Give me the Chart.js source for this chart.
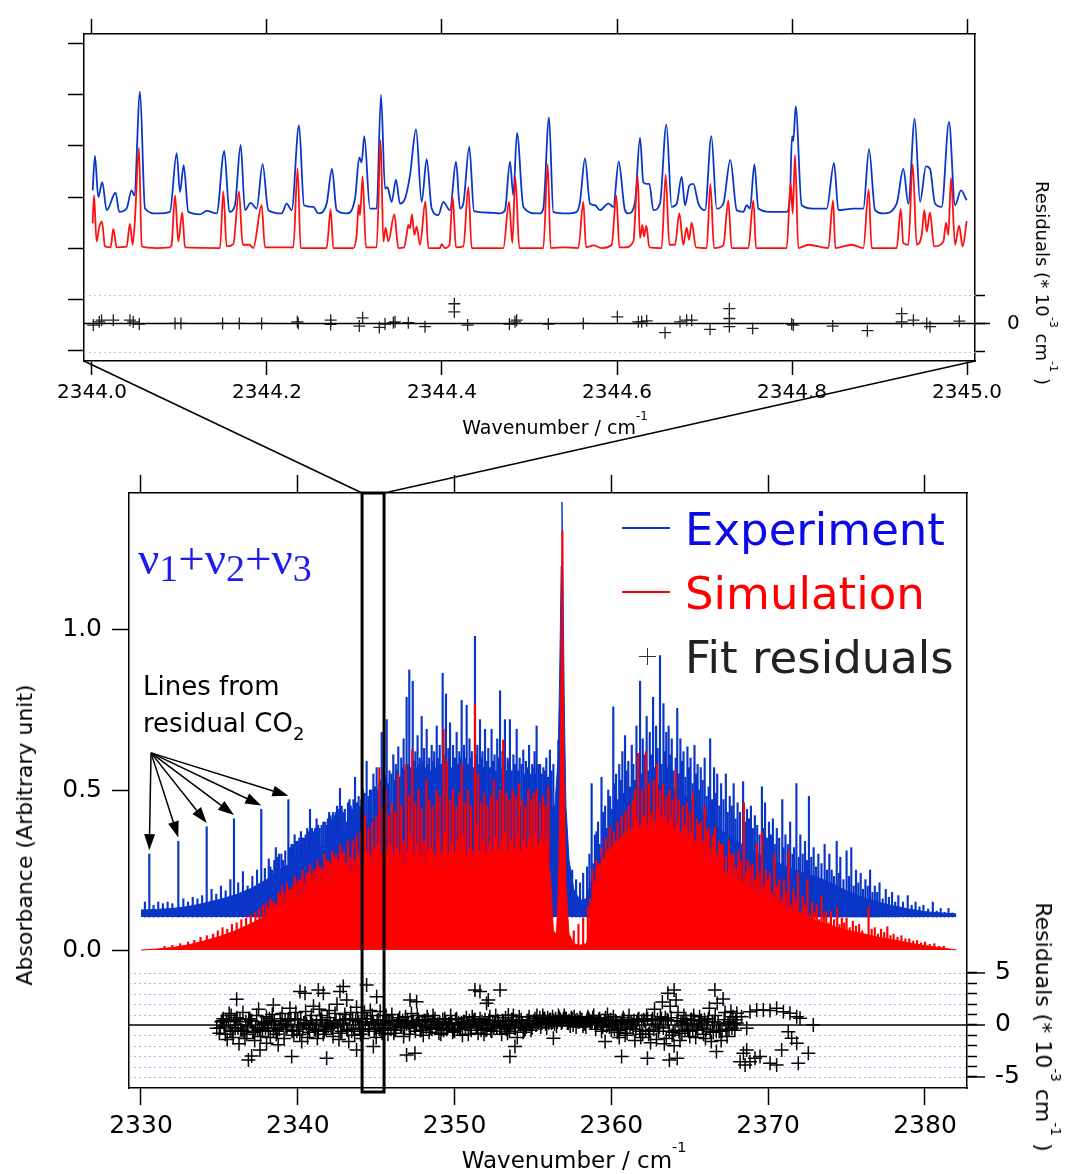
<!DOCTYPE html>
<html>
<head>
<meta charset="utf-8">
<script src="https://cdn.jsdelivr.net/npm/chart.js@4.4.1/dist/chart.umd.min.js"></script>
<style>
  body { margin: 0; background: #fff; }
  #wrap { position: relative; width: 1072px; height: 1174px; overflow: hidden; }
  canvas { position: absolute; left: 0; top: 0; }
  .t { position: absolute; white-space: nowrap; line-height: 1; font-family: 'DejaVu Sans', sans-serif; color: #000; }
  .c { transform: translate(-50%, -50%); }
  .r90 { transform: translate(-50%, -50%) rotate(90deg); }
  .rm90 { transform: translate(-50%, -50%) rotate(-90deg); }
  sup { font-size: 0.62em; position: relative; top: -0.15em; vertical-align: top; line-height: 0; }
  .sb { font-size: 38px; position: relative; top: 7px; }
  .swatch { position: absolute; height: 2px; width: 48px; }
</style>
</head>
<body>
<div id="wrap">
  <canvas id="main" width="1072" height="1174"></canvas>
  <canvas id="inset" width="1072" height="460"></canvas>

  <div class="t c" style="left:555px;top:427px;font-size:19px">Wavenumber / cm<sup>-1</sup></div>
  <div class="t r90" style="left:1042px;top:283px;font-size:18px">Residuals (* 10<sup>-3</sup> cm<sup>-1</sup> )</div>

  <div class="t c" style="left:574px;top:1160px;font-size:23px">Wavenumber / cm<sup>-1</sup></div>
  <div class="t rm90" style="left:25px;top:835px;font-size:22px">Absorbance (Arbitrary unit)</div>
  <div class="t r90" style="left:1043px;top:1027px;font-size:22px">Residuals (* 10<sup>-3</sup> cm<sup>-1</sup> )</div>

  <div class="t" style="left:138px;top:535px;font-family:'Liberation Serif',serif;font-size:47px;color:#1c1cf0">ν<span class="sb">1</span>+ν<span class="sb">2</span>+ν<span class="sb">3</span></div>
  <div class="t" style="left:143px;top:673px;font-size:26px">Lines from</div>
  <div class="t" style="left:143px;top:710px;font-size:26px">residual CO<span style="font-size:18px;position:relative;top:8px">2</span></div>

  <div class="swatch" style="left:622px;top:527px;background:#0a36c8"></div>
  <div class="t" style="left:685px;top:507px;font-size:45px;color:#0a0ae8">Experiment</div>
  <div class="swatch" style="left:622px;top:591px;background:#ff0000"></div>
  <div class="t" style="left:685px;top:571px;font-size:45px;color:#ff0000">Simulation</div>
  <div style="position:absolute;left:639px;top:656px;width:17px;height:1.3px;background:#333"></div>
  <div style="position:absolute;left:647px;top:648px;width:1.3px;height:17px;background:#333"></div>
  <div class="t" style="left:685px;top:635px;font-size:45px;color:#222">Fit residuals</div>
</div>

<script>
// ---------- inset: 2344.0 - 2345.0 cm-1 (x stored as offset from 2344 cm-1) ----------
const insetWnTicks = [2344.0, 2344.2, 2344.4, 2344.6, 2344.8, 2345.0];
const insetAbsTicks = [-0.31, -0.155, 0, 0.155, 0.31, 0.465, 0.62];
const insetResTicks = [-5, 0, 5];

const insetExpDx = [
  0.0008,0.0034,0.0072,0.0118,0.0168,0.0270,0.0312,0.0396,0.0453,0.0484,
  0.0549,0.0606,0.0739,0.0891,0.0968,0.1006,0.1048,0.1101,0.1234,0.1310,
  0.1425,0.1512,0.1570,0.1634,0.1699,0.1749,0.1813,0.1882,0.1950,0.2015,
  0.2168,0.2225,0.2282,0.2366,0.2423,0.2530,0.2587,0.2682,0.2743,0.2796,
  0.2910,0.3006,0.3055,0.3082,0.3112,0.3177,0.3253,0.3303,0.3349,0.3375,
  0.3425,0.3474,0.3520,0.3577,0.3634,0.3703,0.3768,0.3825,0.3882,0.3958,
  0.4015,0.4091,0.4160,0.4206,0.4244,0.4312,0.4366,0.4510,0.4663,0.4720,
  0.4777,0.4815,0.4857,0.4930,0.5082,
  0.5120,0.5158,0.5223,0.5272,0.5425,
  0.5539,0.5577,0.5634,0.5691,0.5749,0.5806,0.5901,0.5958,0.6019,0.6091,
  0.6130,0.6206,0.6263,0.6301,0.6339,0.6370,0.6415,0.6491,0.6564,0.6625,
  0.6682,0.6739,0.6777,0.6827,0.6872,0.6930,0.7006,0.7078,0.7139,0.7215,
  0.7295,0.7368,0.7444,0.7482,0.7520,0.7570,0.7615,0.7749,0.7939,0.7977,
  0.8000,0.8015,0.8042,0.8110,0.8244,0.8396,0.8480,0.8530,0.8701,0.8815,
  0.8880,0.8949,0.9044,0.9196,0.9272,0.9329,0.9402,0.9463,0.9531,0.9577,
  0.9634,0.9710,0.9794,0.9863,0.9931,0.9996];
const insetExpAbs = [
  0.175,0.280,0.155,0.200,0.115,0.168,0.110,0.120,0.175,0.160,
  0.475,0.120,0.105,0.110,0.288,0.170,0.252,0.110,0.102,0.113,
  0.105,0.295,0.110,0.130,0.313,0.115,0.137,0.120,0.255,0.115,
  0.105,0.135,0.115,0.373,0.130,0.125,0.105,0.135,0.240,0.115,
  0.105,0.150,0.275,0.260,0.340,0.120,0.120,0.465,0.180,0.185,
  0.140,0.208,0.135,0.150,0.220,0.360,0.140,0.270,0.120,0.100,
  0.140,0.115,0.262,0.120,0.135,0.308,0.112,0.108,0.105,0.115,
  0.262,0.160,0.350,0.125,0.105,
  0.105,0.120,0.397,0.110,0.105,
  0.110,0.140,0.272,0.135,0.130,0.115,0.135,0.125,0.262,0.115,
  0.105,0.140,0.335,0.200,0.195,0.195,0.115,0.135,0.375,0.125,
  0.135,0.217,0.130,0.190,0.195,0.135,0.115,0.340,0.120,0.135,
  0.268,0.115,0.110,0.130,0.120,0.254,0.120,0.110,0.110,0.160,
  0.340,0.325,0.430,0.130,0.120,0.120,0.258,0.115,0.120,0.120,
  0.300,0.115,0.105,0.135,0.240,0.135,0.393,0.140,0.248,0.240,
  0.135,0.125,0.383,0.130,0.175,0.145];

const insetSimDx = [
  0.0008,0.0023,0.0053,0.0084,0.0114,0.0149,0.0213,0.0244,0.0282,0.0396,
  0.0434,0.0465,0.0491,0.0537,0.0568,0.0739,0.0891,0.0910,0.0949,0.0987,
  0.1032,0.1063,0.1463,0.1501,0.1539,0.1615,0.1680,0.1722,0.1798,0.1844,
  0.1939,0.1977,0.2301,0.2350,0.2385,0.2682,0.2728,0.2758,0.2987,0.3025,
  0.3048,0.3063,0.3093,0.3131,0.3253,0.3299,0.3330,0.3356,0.3387,0.3455,
  0.3501,0.3566,0.3596,0.3615,0.3634,0.3657,0.3684,0.3710,0.3749,0.3810,
  0.3844,0.3977,0.3996,0.4034,0.4084,0.4122,0.4160,0.4244,0.4301,0.4339,
  0.4701,0.4766,0.4804,0.4838,0.4884,0.5101,
  0.5158,0.5208,0.5242,0.5387,0.5558,0.5615,0.5646,0.5730,0.5825,0.5939,
  0.5992,0.6027,0.6091,0.6187,0.6236,0.6263,0.6290,0.6309,0.6335,0.6370,
  0.6510,0.6556,0.6598,0.6663,0.6712,0.6758,0.6796,0.6823,0.6853,0.6903,
  0.7025,0.7067,0.7109,0.7215,0.7272,0.7310,0.7501,0.7558,0.7589,0.7939,
  0.7985,0.8008,0.8034,0.8072,0.8187,0.8415,0.8469,0.8495,0.8682,0.8815,
  0.8876,0.8910,0.9196,0.9242,0.9272,0.9329,0.9379,0.9425,0.9482,0.9512,
  0.9539,0.9577,0.9623,0.9730,0.9760,0.9787,0.9817,0.9863,0.9909,0.9950,0.9996];
const insetSimAbs = [
  0.075,0.160,0.020,0.065,0.080,0.005,0.002,0.058,0.002,0.004,
  0.073,0.010,0.085,0.305,0.005,0.000,0.002,0.010,0.160,0.020,
  0.108,0.002,0.000,0.172,0.005,0.012,0.172,0.010,0.010,0.000,
  0.130,0.002,0.002,0.242,0.000,0.000,0.117,0.000,0.000,0.040,
  0.132,0.100,0.217,0.002,0.002,0.328,0.020,0.062,0.020,0.102,
  0.000,0.002,0.040,0.070,0.060,0.102,0.040,0.065,0.010,0.142,
  0.000,0.000,0.012,0.000,0.008,0.155,0.002,0.005,0.185,0.000,
  0.000,0.140,0.015,0.215,0.000,0.000,
  0.000,0.255,0.000,0.002,0.000,0.140,0.002,0.008,0.000,0.010,
  0.160,0.002,0.002,0.020,0.220,0.030,0.070,0.035,0.068,0.002,
  0.000,0.223,0.010,0.010,0.105,0.010,0.062,0.025,0.077,0.002,
  0.000,0.195,0.000,0.008,0.145,0.000,0.000,0.145,0.000,0.000,
  0.198,0.105,0.283,0.000,0.010,0.000,0.145,0.000,0.010,0.000,
  0.178,0.000,0.000,0.118,0.015,0.010,0.255,0.010,0.040,0.115,
  0.050,0.108,0.005,0.020,0.077,0.040,0.213,0.010,0.068,0.005,0.082];

const insetResDx = [
  0.0015,0.0084,0.0110,0.0244,0.0434,0.0472,0.0541,0.0949,0.1017,0.1493,
  0.1684,0.1939,0.2347,0.2358,0.2728,0.2728,0.3055,0.3093,0.3284,0.3349,
  0.3444,0.3463,0.3615,0.3806,0.4141,0.4141,0.4293,0.4770,0.4834,0.4853,
  0.5215,0.5615,0.6004,0.6244,0.6282,0.6339,0.6549,0.6720,0.6796,0.6853,
  0.7063,0.7284,0.7284,0.7284,0.7550,0.7996,0.8015,0.8465,0.8861,0.9253,
  0.9253,0.9387,0.9539,0.9577,0.9912];
const insetRes = [
  -0.29,0.29,0.58,0.58,0.58,0.29,-0.12,0,0,0,
  0,0,0.29,0,0.58,-0.18,-0.47,1.0,-0.7,-0.12,
  0.12,0.29,0.12,-0.58,3.5,2.05,-0.29,-0.12,0.29,0.58,
  -0.12,0,1.17,0.29,0.29,0.47,-1.64,0.29,0.58,0.58,
  -1.05,2.63,0.88,-0.58,-0.88,-0.12,-0.29,-0.47,-1.29,1.75,
  0.29,0.58,0,-0.58,0.41];

// ---------- main panel ----------
const mainWnTicks = [2330, 2340, 2350, 2360, 2370, 2380];
const mainAbsTicks = [0, 0.5, 1.0];
const mainResTicks = [-5, -4, -3, -2, -1, 0, 1, 2, 3, 4, 5];
const zoomWindow = [2344.1, 2345.5];

const expBaseline = 0.103;
// level up to which the experimental trace is a continuous band
const expEnvWn = [
  2330,2331,2332,2333,2334,2335,2336,2337,2338,2339,
  2340,2341,2342,2343,2344,2345,2346,2347,2348,2349,
  2350,2351,2352,2353,2354,2355,2356,
  2356.4,2356.6,2356.7,2356.8,2356.85,2356.9,2357.0,2357.1,2357.3,2357.6,2358.0,2358.4,2358.8,
  2359.0,2359.5,2360.0,2360.5,2361.0,2361.5,2362.0,2362.5,2363.0,2363.5,
  2364.0,2364.5,2365.0,2365.5,2366.0,2366.5,2367.0,2367.5,2368.0,
  2369,2370,2371,2372,2373,2374,2375,2376,2377,2378,2379,2380,2381,2382];
const expEnvAbs = [
  0.125,0.127,0.130,0.136,0.146,0.158,0.172,0.192,0.220,0.255,
  0.285,0.310,0.335,0.360,0.390,0.410,0.430,0.455,0.470,0.475,
  0.475,0.475,0.470,0.460,0.450,0.445,0.440,
  0.45,0.60,0.85,1.20,1.40,1.20,0.75,0.45,0.28,0.19,0.155,0.16,0.23,
  0.26,0.31,0.37,0.42,0.455,0.48,0.50,0.51,0.52,0.52,
  0.505,0.49,0.47,0.445,0.42,0.395,0.375,0.355,0.34,
  0.31,0.285,0.265,0.245,0.23,0.21,0.185,0.165,0.15,0.138,0.128,0.12,0.116,0.113];

// residual CO2 lines pointed at by the arrows
const co2Wn = [2330.53, 2332.38, 2334.19, 2335.93, 2337.67, 2339.40];
const co2Abs = [0.30, 0.34, 0.385, 0.41, 0.44, 0.47];
const arrowFrom = [2330.64, 0.616];

// strong experimental line tops
const expLineWn = [
  2330.25,2330.8,2331.1,2331.4,2331.7,2332.0,2332.7,2333.0,2333.3,2333.6,
  2333.9,2334.5,2334.8,2335.1,2335.4,2335.7,2336.2,2336.5,2336.8,2337.1,
  2337.4,2337.9,2338.15,2338.35,2338.6,2338.8,2339.05,2339.6,2339.8,2340.0,
  2340.2,2340.4,2340.6,2340.78,2341.0,2341.2,2341.4,2341.63,2341.85,2342.0,
  2342.16,2342.35,2342.5,2342.69,2342.9,2343.12,2343.3,2343.45,2343.65,2343.8,
  2343.97,2344.15,2344.39,2344.6,2344.82,2345.03,2345.2,2345.35,2345.5,2345.67,
  2345.85,2346.09,2346.25,2346.41,2346.6,2346.75,2346.94,2347.11,2347.33,2347.5,
  2347.64,2347.78,2347.9,2348.05,2348.22,2348.38,2348.54,2348.7,2348.86,2349.05,
  2349.24,2349.45,2349.6,2349.71,2349.9,2350.13,2350.3,2350.45,2350.6,2350.77,
  2350.95,2351.1,2351.3,2351.45,2351.62,2351.78,2351.94,2352.15,2352.36,2352.55,
  2352.72,2352.9,2353.05,2353.21,2353.38,2353.53,2353.75,2353.96,2354.15,2354.38,
  2354.55,2354.75,2354.95,2355.1,2355.23,2355.45,2355.66,2355.85,2356.08,2356.3,
  2356.62,
  2357.5,2357.75,2358.0,2358.2,2358.45,2358.74,2358.95,2359.15,2359.37,2359.6,
  2359.8,2360.12,2360.3,2360.5,2360.7,2360.87,2361.08,2361.3,2361.6,2361.83,
  2362.0,2362.25,2362.45,2362.66,2362.85,2363.1,2363.32,2363.5,2363.65,2363.85,
  2364.2,2364.4,2364.6,2364.85,2365.05,2365.3,2365.5,2365.7,2365.95,2366.3,
  2366.55,2366.75,2367.0,2367.3,2367.55,2367.8,2368.05,2368.4,2368.65,2368.9,
  2369.15,2369.6,2369.8,2370.05,2370.3,2370.55,2370.9,2371.1,2371.4,2371.8,
  2372.05,2372.35,2372.6,2372.9,2373.2,2373.6,2373.9,2374.37,2374.6,2375.0,
  2375.3,2375.6,2375.9,2376.2,2376.5,2376.8,2377.1,2377.5,2377.9,2378.3,
  2378.9,2379.4,2379.9,2380.5,2381.0,2381.5];
const expLineAbs = [
  0.15,0.14,0.15,0.145,0.15,0.145,0.16,0.15,0.165,0.16,
  0.17,0.19,0.175,0.20,0.185,0.22,0.21,0.245,0.20,0.23,
  0.25,0.255,0.285,0.25,0.32,0.30,0.28,0.33,0.36,0.34,
  0.37,0.35,0.38,0.44,0.37,0.41,0.38,0.40,0.39,0.43,
  0.41,0.42,0.45,0.505,0.43,0.40,0.47,0.44,0.54,0.46,
  0.45,0.50,0.59,0.50,0.55,0.57,0.52,0.68,0.55,0.72,
  0.56,0.61,0.58,0.635,0.60,0.66,0.79,0.875,0.84,0.62,
  0.67,0.60,0.73,0.63,0.69,0.60,0.64,0.62,0.70,0.64,
  0.865,0.80,0.63,0.71,0.64,0.68,0.62,0.78,0.64,0.765,
  0.66,0.62,0.98,0.64,0.72,0.62,0.69,0.63,0.69,0.61,
  0.66,0.81,0.62,0.72,0.60,0.72,0.61,0.69,0.60,0.625,
  0.59,0.64,0.58,0.62,0.70,0.58,0.57,0.60,0.625,0.58,
  0.656,
  0.25,0.22,0.21,0.24,0.26,0.52,0.36,0.40,0.54,0.45,
  0.50,0.76,0.55,0.58,0.62,0.67,0.59,0.64,0.70,0.84,
  0.66,0.73,0.68,0.79,0.70,0.92,0.77,0.68,0.70,0.66,
  0.755,0.66,0.62,0.635,0.60,0.64,0.58,0.57,0.60,0.66,
  0.57,0.55,0.52,0.55,0.48,0.52,0.46,0.526,0.44,0.45,
  0.42,0.51,0.46,0.40,0.41,0.38,0.47,0.36,0.40,0.52,
  0.36,0.34,0.48,0.32,0.30,0.33,0.30,0.34,0.29,0.31,
  0.32,0.25,0.24,0.22,0.25,0.20,0.21,0.19,0.18,0.17,
  0.17,0.15,0.14,0.15,0.13,0.13];

// weaker experimental lines between the strong ones
const expWeakWn = [
  2338.25,2338.5,2338.7,2338.95,2339.2,2339.5,2339.7,2339.9,2340.1,2340.3,
  2340.5,2340.7,2340.9,2341.1,2341.3,2341.52,2341.75,2341.92,2342.08,2342.25,
  2342.42,2342.6,2342.8,2343.0,2343.2,2343.38,2343.55,2343.72,2343.88,2344.06,
  2344.27,2344.5,2344.7,2344.92,2345.12,2345.27,2345.42,2345.58,2345.76,2345.97,
  2346.17,2346.33,2346.5,2346.68,2346.85,2347.02,2347.22,2347.42,2347.57,2347.71,
  2347.84,2347.98,2348.14,2348.3,2348.46,2348.62,2348.78,2348.95,2349.14,2349.34,
  2349.53,2349.66,2349.8,2350.02,2350.22,2350.38,2350.53,2350.68,2350.86,2351.02,
  2351.2,2351.38,2351.53,2351.7,2351.86,2352.05,2352.25,2352.45,2352.63,2352.81,
  2352.98,2353.13,2353.3,2353.46,2353.64,2353.86,2354.05,2354.27,2354.46,2354.65,
  2354.85,2355.03,2355.16,2355.34,2355.55,2355.76,2355.96,2356.18,
  2358.6,2358.85,2359.05,2359.25,2359.48,2359.7,2359.92,2360.05,2360.2,2360.4,
  2360.6,2360.78,2360.97,2361.18,2361.4,2361.5,2361.7,2361.92,2362.1,2362.35,
  2362.55,2362.75,2362.95,2363.2,2363.42,2363.58,2363.75,2363.95,2364.1,2364.3,
  2364.5,2364.72,2364.95,2365.18,2365.4,2365.6,2365.82,2366.08,2366.2,2366.42,
  2366.65,2366.88,2367.15,2367.42,2367.68,2367.92,2368.2,2368.52,2368.78,2369.02,
  2369.3,2369.45,2369.7,2369.92,2370.18,2370.42,2370.7,2370.98,2371.25,2371.55,
  2371.65,2371.95,2372.2,2372.48,2372.75,2373.05,2373.4,2373.75,2374.05,2374.2,
  2374.5,2374.8,2375.15,2375.45,2375.75,2376.05,2376.35,2376.65,2376.95,2377.3,
  2377.7,2378.1,2378.6,2379.15,2379.65,2380.2,2380.75,2381.25,2381.75];
const expWeakAbs = [
  0.26,0.28,0.29,0.30,0.31,0.32,0.33,0.34,0.35,0.35,
  0.36,0.37,0.38,0.38,0.39,0.39,0.40,0.41,0.42,0.43,
  0.43,0.44,0.45,0.44,0.46,0.45,0.47,0.46,0.48,0.47,
  0.49,0.48,0.50,0.51,0.50,0.53,0.51,0.54,0.52,0.55,
  0.53,0.56,0.54,0.57,0.56,0.58,0.57,0.59,0.57,0.58,
  0.56,0.59,0.57,0.58,0.56,0.59,0.57,0.60,0.58,0.61,
  0.57,0.59,0.57,0.60,0.58,0.60,0.57,0.60,0.58,0.60,
  0.57,0.61,0.58,0.60,0.57,0.59,0.57,0.59,0.56,0.60,
  0.57,0.59,0.56,0.59,0.56,0.58,0.56,0.58,0.55,0.57,
  0.55,0.57,0.55,0.58,0.55,0.56,0.54,0.56,
  0.30,0.27,0.37,0.33,0.43,0.38,0.48,0.44,0.52,0.47,
  0.53,0.49,0.56,0.51,0.58,0.53,0.59,0.55,0.61,0.56,
  0.61,0.57,0.63,0.58,0.62,0.57,0.61,0.56,0.60,0.55,
  0.59,0.54,0.57,0.52,0.55,0.50,0.53,0.48,0.51,0.47,
  0.49,0.45,0.47,0.43,0.45,0.41,0.43,0.40,0.41,0.38,
  0.39,0.36,0.38,0.35,0.36,0.33,0.35,0.32,0.33,0.30,
  0.32,0.29,0.30,0.28,0.29,0.26,0.27,0.25,0.25,0.23,
  0.24,0.22,0.23,0.20,0.21,0.19,0.20,0.18,0.18,0.16,
  0.165,0.15,0.15,0.14,0.135,0.128,0.122,0.118,0.116];

// simulation: continuous band level
const simEnvWn = [
  2330,2331,2332,2333,2334,2335,2336,2337,2338,2339,
  2340,2341,2342,2343,2344,2345,2346,2347,2348,2349,
  2350,2351,2352,2353,2354,2355,
  2355.8,2356.1,2356.3,2356.5,2356.65,2356.75,2356.82,2356.86,2356.9,2356.98,
  2357.1,2357.3,2357.6,2358.0,2358.4,2358.6,2358.9,2359.2,2359.6,
  2360.0,2360.5,2361.0,2361.5,2362.0,2362.5,2363.0,2363.5,2364.0,2364.5,
  2365.0,2365.5,2366.0,2366.5,2367.0,
  2368,2369,2370,2371,2372,2373,2374,2375,2376,2377,2378,2379,2380,2381,2382];
const simEnvAbs = [
  0.000,0.003,0.008,0.016,0.028,0.042,0.060,0.082,0.108,0.135,
  0.165,0.195,0.215,0.235,0.250,0.260,0.265,0.265,0.260,0.255,
  0.250,0.245,0.250,0.260,0.270,0.280,
  0.270,0.24,0.06,0.05,0.25,0.60,1.10,1.31,1.10,0.55,
  0.20,0.05,0.02,0.015,0.02,0.06,0.20,0.26,0.29,
  0.32,0.345,0.365,0.38,0.39,0.395,0.395,0.385,0.37,0.35,
  0.33,0.31,0.29,0.27,0.25,
  0.22,0.19,0.16,0.135,0.11,0.093,0.077,0.062,0.052,0.040,0.032,0.022,0.014,0.007,0.000];

// strong simulated line tops
const simLineWn = [
  2331.5,2332.0,2332.5,2333.0,2333.4,2333.8,2334.2,2334.6,2334.9,2335.2,
  2335.5,2335.8,2336.1,2336.4,2336.7,2337.0,2337.3,2337.55,2337.8,2338.0,
  2338.25,2338.5,2338.75,2339.0,2339.3,2339.55,2339.8,2340.05,2340.3,2340.55,
  2340.78,2341.0,2341.25,2341.45,2341.7,2341.95,2342.2,2342.45,2342.7,2342.95,
  2343.2,2343.5,2343.75,2344.0,2344.29,2344.5,2344.75,2345.0,2345.2,2345.4,
  2345.6,2345.8,2346.0,2346.2,2346.4,2346.6,2346.9,2347.1,2347.3,2347.5,
  2347.7,2347.9,2348.2,2348.4,2348.6,2348.85,2349.05,2349.3,2349.5,2349.7,
  2349.9,2350.1,2350.3,2350.45,2350.65,2350.85,2351.05,2351.3,2351.5,2351.7,
  2351.9,2352.1,2352.3,2352.5,2352.7,2352.9,2353.1,2353.3,2353.5,2353.7,
  2353.9,2354.1,2354.3,2354.5,2354.7,2354.9,2355.05,2355.23,2355.45,2355.65,
  2355.8,2355.98,
  2357.6,2357.9,2358.2,2358.5,2358.8,2359.05,2359.4,2359.65,2359.9,2360.15,
  2360.4,2360.65,2360.9,2361.1,2361.35,2361.5,2361.7,2361.95,2362.2,2362.4,
  2362.7,2362.9,2363.1,2363.3,2363.5,2363.7,2363.9,2364.1,2364.3,2364.55,
  2364.8,2365.0,2365.2,2365.45,2365.7,2365.95,2366.2,2366.45,2366.6,2366.85,
  2367.1,2367.5,2367.8,2368.1,2368.45,2368.7,2369.0,2369.3,2369.6,2369.85,
  2370.1,2370.4,2370.7,2371.0,2371.3,2371.6,2371.9,2372.2,2372.5,2372.8,
  2373.1,2373.4,2373.7,2374.0,2374.4,2374.7,2375.0,2375.4,2375.8,2376.4,
  2376.8,2377.2,2377.6,2378.0,2378.5,2379.0,2379.5,2380.0,2380.6,2381.2];
const simLineAbs = [
  0.012,0.015,0.02,0.025,0.03,0.04,0.045,0.05,0.06,0.07,
  0.065,0.08,0.085,0.095,0.10,0.11,0.12,0.13,0.14,0.146,
  0.16,0.15,0.18,0.20,0.21,0.19,0.23,0.22,0.25,0.24,
  0.266,0.25,0.28,0.26,0.30,0.28,0.31,0.30,0.33,0.31,
  0.34,0.34,0.36,0.37,0.42,0.38,0.40,0.42,0.57,0.44,
  0.50,0.42,0.46,0.43,0.55,0.45,0.58,0.48,0.625,0.46,
  0.50,0.44,0.53,0.47,0.45,0.50,0.48,0.69,0.59,0.47,
  0.50,0.45,0.49,0.58,0.46,0.50,0.45,0.77,0.55,0.46,
  0.49,0.45,0.48,0.53,0.47,0.50,0.656,0.49,0.47,0.50,
  0.48,0.52,0.47,0.45,0.50,0.47,0.49,0.50,0.46,0.48,
  0.45,0.51,
  0.06,0.08,0.10,0.135,0.25,0.28,0.32,0.35,0.385,0.37,
  0.40,0.42,0.43,0.45,0.47,0.50,0.615,0.50,0.62,0.52,
  0.53,0.58,0.50,0.52,0.48,0.50,0.47,0.56,0.47,0.45,
  0.46,0.43,0.49,0.41,0.40,0.45,0.38,0.36,0.385,0.34,
  0.33,0.34,0.30,0.31,0.46,0.28,0.27,0.33,0.37,0.25,
  0.24,0.30,0.22,0.22,0.31,0.19,0.24,0.17,0.22,0.15,
  0.14,0.17,0.12,0.12,0.135,0.10,0.10,0.09,0.08,0.135,
  0.07,0.065,0.073,0.05,0.045,0.035,0.03,0.025,0.02,0.012];

// weaker simulated lines
const simWeakWn = [
  2338.1,2338.35,2338.62,2338.87,2339.15,2339.42,2339.68,2339.92,2340.18,2340.42,
  2340.66,2340.9,2341.12,2341.35,2341.58,2341.82,2342.08,2342.32,2342.58,2342.82,
  2343.08,2343.35,2343.62,2343.88,2344.12,2344.4,2344.62,2344.88,2345.1,2345.3,
  2345.5,2345.7,2345.9,2346.1,2346.3,2346.5,2346.75,2347.0,2347.2,2347.4,
  2347.6,2347.8,2348.05,2348.3,2348.5,2348.72,2348.95,2349.18,2349.4,2349.6,
  2349.8,2350.0,2350.2,2350.38,2350.55,2350.75,2350.95,2351.15,2351.4,2351.6,
  2351.8,2352.0,2352.2,2352.4,2352.6,2352.8,2353.0,2353.2,2353.4,2353.6,
  2353.8,2354.0,2354.2,2354.4,2354.6,2354.8,2355.0,2355.15,2355.35,2355.55,
  2355.72,2355.9,
  2358.65,2358.95,2359.2,2359.52,2359.78,2360.02,2360.28,2360.52,2360.78,2361.0,
  2361.22,2361.42,2361.6,2361.82,2362.08,2362.3,2362.55,2362.8,2363.0,2363.2,
  2363.4,2363.6,2363.8,2364.0,2364.2,2364.42,2364.68,2364.9,2365.1,2365.32,
  2365.58,2365.82,2366.08,2366.32,2366.52,2366.72,2366.98,2367.3,2367.65,2367.95,
  2368.25,2368.58,2368.85,2369.15,2369.45,2369.72,2369.98,2370.25,2370.55,2370.85,
  2371.15,2371.45,2371.75,2372.05,2372.35,2372.65,2372.95,2373.25,2373.55,2373.85,
  2374.2,2374.55,2374.85,2375.2,2375.6,2376.0,2376.6,2377.0,2377.4,2377.8,
  2378.25,2378.75,2379.25,2379.75,2380.3,2380.9];
const simWeakAbs = [
  0.13,0.15,0.14,0.17,0.18,0.19,0.20,0.21,0.22,0.21,
  0.24,0.23,0.25,0.26,0.25,0.28,0.27,0.29,0.28,0.30,
  0.27,0.29,0.28,0.30,0.29,0.31,0.30,0.32,0.33,0.30,
  0.35,0.31,0.33,0.30,0.32,0.30,0.34,0.31,0.36,0.30,
  0.33,0.30,0.34,0.31,0.32,0.30,0.35,0.31,0.37,0.30,
  0.33,0.30,0.34,0.31,0.36,0.30,0.32,0.31,0.39,0.31,
  0.34,0.30,0.33,0.31,0.35,0.31,0.34,0.37,0.31,0.34,
  0.32,0.36,0.31,0.34,0.32,0.35,0.32,0.36,0.33,0.35,
  0.32,0.35,
  0.16,0.21,0.27,0.25,0.31,0.29,0.34,0.31,0.36,0.34,
  0.38,0.36,0.41,0.38,0.42,0.39,0.43,0.40,0.44,0.41,
  0.42,0.39,0.41,0.38,0.40,0.37,0.39,0.36,0.37,0.34,
  0.39,0.34,0.37,0.32,0.35,0.30,0.33,0.29,0.30,0.26,
  0.28,0.24,0.26,0.22,0.24,0.20,0.22,0.18,0.20,0.16,
  0.18,0.14,0.16,0.12,0.14,0.11,0.12,0.095,0.11,0.085,
  0.095,0.08,0.085,0.07,0.075,0.06,0.065,0.05,0.055,0.045,
  0.04,0.035,0.028,0.022,0.018,0.012];

// fit residuals (* 1e-3 cm-1)
const resWn = [
  2335.0,2335.125,2335.25,2335.375,2335.5,2335.625,2335.75,2335.875,2336.0,2336.125,
  2336.25,2336.375,2336.5,2336.625,2336.75,2336.875,2337.0,2337.125,2337.25,2337.375,
  2337.5,2337.625,2337.75,2337.875,2338.0,2338.125,2338.25,2338.375,2338.5,2338.625,
  2338.75,2338.875,2339.0,2339.125,2339.25,2339.375,2339.5,2339.625,2339.75,2339.875,
  2340.0,2340.125,2340.25,2340.375,2340.5,2340.625,2340.75,2340.875,2341.0,2341.125,
  2341.25,2341.375,2341.5,2341.625,2341.75,2341.875,2342.0,2342.125,2342.25,2342.375,
  2342.5,2342.625,2342.75,2342.875,2343.0,2343.125,2343.25,2343.375,2343.5,2343.625,
  2343.75,2343.875,2344.0,2344.125,2344.25,2344.375,2344.5,2344.625,2344.75,2344.875,
  2345.0,2345.125,2345.25,2345.375,2345.5,2345.625,2345.75,2345.875,2346.0,2346.125,
  2346.25,2346.375,2346.5,2346.625,2346.75,2346.875,2347.0,2347.125,2347.25,2347.375,
  2347.5,2347.625,2347.75,2347.875,2348.0,2348.125,2348.25,2348.375,2348.5,2348.625,
  2348.75,2348.875,2349.0,2349.125,2349.25,2349.375,2349.5,2349.625,2349.75,2349.875,
  2350.0,2350.125,2350.25,2350.375,2350.5,2350.625,2350.75,2350.875,2351.0,2351.125,
  2351.25,2351.375,2351.5,2351.625,2351.75,2351.875,2352.0,2352.125,2352.25,2352.375,
  2352.5,2352.625,2352.75,2352.875,2353.0,2353.125,2353.25,2353.375,2353.5,2353.625,
  2353.75,2353.875,2354.0,2354.125,2354.25,2354.375,2354.5,2354.625,2354.75,2354.875,
  2355.0,2355.125,2355.25,2355.375,2355.5,2355.625,2355.75,2355.875,2356.0,2356.125,
  2356.25,2356.375,2356.5,2356.625,2356.75,2356.875,2357.0,2357.125,2357.25,2357.375,
  2357.5,2357.625,2357.75,2357.875,2358.0,2358.125,2358.25,2358.375,2358.5,2358.625,
  2358.75,2358.875,2359.0,2359.125,2359.25,2359.375,2359.5,2359.625,2359.75,2359.875,
  2360.0,2360.125,2360.25,2360.375,2360.5,2360.625,2360.75,2360.875,2361.0,2361.125,
  2361.25,2361.375,2361.5,2361.625,2361.75,2361.875,2362.0,2362.125,2362.25,2362.375,
  2362.5,2362.625,2362.75,2362.875,2363.0,2363.125,2363.25,2363.375,2363.5,2363.625,
  2363.75,2363.875,2364.0,2364.125,2364.25,2364.375,2364.5,2364.625,2364.75,2364.875,
  2365.0,2365.125,2365.25,2365.375,2365.5,2365.625,2365.75,2365.875,2366.0,2366.125,
  2366.25,2366.375,2366.5,2366.625,2366.75,2366.875,2367.0,2367.125,2367.25,2367.375,
  2367.5,2367.625,2367.75,2367.875,2368.0,
  2334.83,2336.10,2336.85,2337.06,2337.59,2338.01,2338.44,2339.61,2340.14,2340.46,
  2341.31,2341.63,2341.84,2342.69,2342.90,2343.12,2343.75,2344.39,2345.03,2344.82,
  2346.94,2347.47,2347.16,2347.58,2351.30,2351.62,2352.15,2352.04,2352.90,2353.43,
  2353.53,2353.85,2356.30,2360.65,2362.30,2359.60,2363.60,2364.00,2363.70,2364.20,
  2366.60,2366.70,
  2368.00,2368.30,2368.63,2368.84,2369.27,2369.69,2370.12,2370.54,2370.97,2371.39,
  2371.82,2372.03,2368.21,2368.53,2368.84,2369.16,2369.48,2368.42,2370.12,2370.54,
  2370.86,2371.28,2371.50,2371.82,2371.92,2372.56,2372.88,2368.63];
const res = [
  -0.8,0.3,0.6,-0.9,-1.4,1.1,0.9,-1.2,-0.3,0.7,
  -1.8,-0.5,1.2,-1.3,-0.9,0.6,0.4,-0.7,-1.5,0.9,
  1.5,-1.1,-0.6,0.2,0.8,-0.5,-1.2,1.0,0.3,-0.9,
  -1.9,0.6,1.1,-1.3,-0.4,0.4,1.6,-0.6,-1.0,1.2,
  0.5,-0.9,-1.6,0.2,1.3,-1.2,-0.7,0.9,1.8,-0.5,
  -1.3,1.5,0.9,-0.9,-0.2,0.7,1.4,-0.3,-1.1,1.1,
  2.0,-1.4,-0.8,0.5,1.0,-0.4,-1.6,1.2,0.6,-1.0,
  1.7,0.3,-0.9,-1.3,1.2,0.6,-0.4,1.4,0.9,-0.6,
  -1.2,0.5,1.3,-0.8,0.2,0.9,-0.9,0.3,1.0,-0.8,
  -0.5,0.4,0.7,-0.2,-1.1,0.8,0.4,-0.9,1.1,0.3,
  -0.6,0.9,0.3,-0.5,-1.0,0.4,0.8,-0.7,-0.3,0.9,
  0.6,-0.2,-0.8,-0.9,0.5,0.6,-0.4,0.1,0.9,-0.7,
  -0.6,0.6,0.2,-0.4,-1.0,0.3,0.7,-0.9,-0.2,0.8,
  0.5,-0.3,-0.8,0.6,0.3,-0.9,-0.5,0.2,0.8,-0.6,
  -0.3,0.9,0.4,-0.2,-0.9,0.3,0.7,-0.8,-0.6,0.5,
  0.9,-0.3,-1.2,0.8,0.5,-0.7,-0.4,0.4,0.8,-0.5,
  0.1,0.6,0.9,0.2,-0.2,0.9,0.6,-0.3,0.2,0.5,
  0.8,0.1,-0.1,0.9,0.5,0.3,0.9,0.6,0.2,-0.1,
  0.6,0.8,-0.2,0.3,0.7,0.5,0.1,-0.2,0.8,0.4,
  0.3,0.9,-0.4,0.2,0.6,-0.6,0.0,0.7,1.0,-0.2,
  -0.5,0.8,0.4,-0.7,-1.2,0.2,0.7,-1.0,-0.8,0.9,
  0.3,-0.4,-1.5,0.3,0.6,-1.2,-0.9,0.4,0.9,-0.9,
  -1.7,0.6,1.5,-1.4,-0.6,0.8,2.2,-1.8,-1.3,0.4,
  1.8,-1.0,-2.0,2.4,1.2,-1.5,-0.8,0.9,0.6,-0.4,
  -1.1,0.5,0.9,-1.2,-0.5,0.8,0.4,-0.9,-1.3,0.3,
  1.6,-1.6,-0.7,0.9,2.1,-0.6,-1.5,2.5,1.2,-1.1,
  -0.4,1.3,0.8,-0.5,0.2,
  -0.32,2.47,-3.37,-2.98,-2.40,-1.76,1.92,-3.04,3.21,3.04,
  3.37,3.04,-3.21,3.21,3.69,2.40,-2.40,3.85,2.72,-2.08,
  -2.88,-2.72,2.40,2.24,3.37,3.21,2.40,2.08,3.37,0.96,
  -3.04,-2.08,-1.28,-3.04,-3.20,-1.60,3.04,3.37,-3.37,-3.20,
  3.37,-2.56,
  1.12,0.80,-0.32,1.28,1.44,1.44,1.38,1.60,1.28,1.12,
  0.80,0.64,-3.53,-3.85,-3.53,-3.21,-3.04,-2.72,-3.69,-3.85,
  -2.40,-0.64,-1.28,-1.76,-3.69,-2.72,0.00,-2.40];

// residual points in the dense core of the band
const resCoreWn = [
  2335.06,2335.19,2335.31,2335.44,2335.56,2335.69,2335.81,2335.94,
  2336.06,2336.19,2336.31,2336.44,2336.56,2336.69,2336.81,2336.94,
  2337.06,2337.19,2337.31,2337.44,2337.56,2337.69,2337.81,2337.94,
  2338.06,2338.19,2338.31,2338.44,2338.56,2338.69,2338.81,2338.94,
  2339.06,2339.19,2339.31,2339.44,2339.56,2339.69,2339.81,2339.94,
  2340.06,2340.19,2340.31,2340.44,2340.56,2340.69,2340.81,2340.94,
  2341.06,2341.19,2341.31,2341.44,2341.56,2341.69,2341.81,2341.94,
  2342.06,2342.19,2342.31,2342.44,2342.56,2342.69,2342.81,2342.94,
  2343.06,2343.19,2343.31,2343.44,2343.56,2343.69,2343.81,2343.94,
  2344.06,2344.19,2344.31,2344.44,2344.56,2344.69,2344.81,2344.94,
  2345.06,2345.19,2345.31,2345.44,2345.56,2345.69,2345.81,2345.94,
  2346.06,2346.19,2346.31,2346.44,2346.56,2346.69,2346.81,2346.94,
  2347.06,2347.19,2347.31,2347.44,2347.56,2347.69,2347.81,2347.94,
  2348.06,2348.19,2348.31,2348.44,2348.56,2348.69,2348.81,2348.94,
  2349.06,2349.19,2349.31,2349.44,2349.56,2349.69,2349.81,2349.94,
  2350.06,2350.19,2350.31,2350.44,2350.56,2350.69,2350.81,2350.94,
  2351.06,2351.19,2351.31,2351.44,2351.56,2351.69,2351.81,2351.94,
  2352.06,2352.19,2352.31,2352.44,2352.56,2352.69,2352.81,2352.94,
  2353.06,2353.19,2353.31,2353.44,2353.56,2353.69,2353.81,2353.94,
  2354.06,2354.19,2354.31,2354.44,2354.56,2354.69,2354.81,2354.94,
  2355.06,2355.19,2355.31,2355.44,2355.56,2355.69,2355.81,2355.94,
  2356.06,2356.19,2356.31,2356.44,2356.56,2356.69,2356.81,2356.94,
  2357.06,2357.19,2357.31,2357.44,2357.56,2357.69,2357.81,2357.94,
  2358.06,2358.19,2358.31,2358.44,2358.56,2358.69,2358.81,2358.94,
  2359.06,2359.19,2359.31,2359.44,2359.56,2359.69,2359.81,2359.94,
  2360.06,2360.19,2360.31,2360.44,2360.56,2360.69,2360.81,2360.94,
  2361.06,2361.19,2361.31,2361.44,2361.56,2361.69,2361.81,2361.94,
  2362.06,2362.19,2362.31,2362.44,2362.56,2362.69,2362.81,2362.94,
  2363.06,2363.19,2363.31,2363.44,2363.56,2363.69,2363.81,2363.94,
  2364.06,2364.19,2364.31,2364.44,2364.56,2364.69,2364.81,2364.94,
  2365.06,2365.19,2365.31,2365.44,2365.56,2365.69,2365.81,2365.94,
  2366.06,2366.19,2366.31,2366.44,2366.56,2366.69,2366.81,2366.94,
  2367.06,2367.19,2367.31,2367.44,2367.56,2367.69,2367.81,2367.94];
const resCore = [
  -0.3,0.4,-0.1,0.5, 0.3,-0.5,-0.6,0.4,
  0.5,-0.3,0.6,-0.5, -0.6,0.3,-0.1,0.6,
  0.4,-0.7,-0.3,-0.5, -0.4,0.3,0.1,-0.3,
  0.2,0.6,0.4,-0.6, -0.3,-0.6,-0.4,0.1,
  0.0,0.4,-0.2,0.6, 0.5,-0.5,0.6,-0.6,
  -0.2,0.5,-0.4,0.2, 0.1,-0.3,0.4,0.0,
  -0.4,0.2,-0.6,0.5, 0.4,-0.6,-0.4,-0.1,
  0.2,-0.3,0.1,0.4, -0.2,0.5,-0.6,0.2,
  0.6,-0.5,0.5,-0.6, -0.3,0.4,0.6,-0.4,
  0.3,-0.6,0.1,0.6, -0.4,0.3,0.2,-0.3,
  0.4,-0.4,-0.5,0.2, -0.3,0.3,0.4,-0.4,
  0.3,-0.5,0.1,0.5, -0.1,0.4,-0.3,0.1,
  0.2,-0.3,0.3,-0.1, 0.1,0.5,-0.5,0.3,
  0.4,-0.2,0.5,-0.3, -0.4,0.3,-0.3,0.1,
  0.2,-0.4,-0.5,0.3, -0.3,0.1,0.2,-0.5,
  0.5,-0.3,-0.4,0.2, 0.3,-0.2,0.1,0.4,
  -0.5,0.3,0.5,-0.1, 0.2,-0.5,-0.3,0.5,
  -0.4,0.4,-0.5,0.2, 0.1,-0.2,0.3,-0.1,
  0.4,-0.3,-0.4,0.1, -0.1,0.5,-0.3,0.4,
  0.3,-0.1,0.2,-0.5, -0.2,0.4,0.1,-0.3,
  0.4,0.0,0.3,0.7, 0.2,0.6,0.1,0.7,
  0.5,0.2,0.4,0.6, 0.3,0.7,0.2,0.6,
  0.6,0.2,0.4,0.7, 0.0,0.4,0.5,0.3,
  0.5,-0.1,0.2,0.5, 0.6,0.2,0.7,0.3,
  0.2,0.5,0.3,-0.2, 0.4,-0.1,0.3,0.5,
  0.1,-0.4,0.3,-0.5, -0.3,0.4,0.5,-0.4,
  0.3,-0.2,0.1,0.4, -0.4,0.5,-0.6,0.4,
  0.5,-0.5,0.6,-0.6, 0.4,-0.4,0.1,0.5,
  -0.2,0.6,-0.3,0.7, 0.5,-0.6,0.7,-0.7,
  -0.5,0.4,-0.6,0.3, 0.2,-0.5,0.1,-0.6,
  0.5,-0.4,0.4,-0.2, 0.1,0.4,-0.3,0.5,
  -0.4,0.6,-0.6,0.3, 0.3,-0.6,0.2,-0.5,
  -0.6,0.5,-0.5,0.2, 0.3,-0.3,0.1,0.5];

// ---------- helpers ----------
Chart.defaults.font.family = "'DejaVu Sans', sans-serif";
Chart.defaults.color = '#000';

const pts = (xs, ys, dx = 0) => xs.slice(0, ys.length).map((x, i) => ({ x: x + dx, y: ys[i] }));
const spikes = (xs, ys, base) => xs.slice(0, ys.length).map((x, i) => ({ x, y: [base, ys[i]] }));
const level = (xs, v) => xs.map(x => ({ x, y: v }));
const setTicks = vals => s => { s.ticks = vals.map(v => ({ value: v })); };
const fixSize = px => s => { if (s.isHorizontal()) s.height = px; else s.width = px; };

function axis(pos, min, max, ticks, size, opts) {
  return Object.assign({
    type: 'linear', position: pos, min, max, offset: false,
    afterBuildTicks: setTicks(ticks), afterFit: fixSize(size),
    border: { display: true, color: '#000', width: 1.5 },
    grid: { drawOnChartArea: false, drawTicks: true, tickLength: opts.tickLength, tickWidth: 1.5, tickColor: '#000', offset: false },
    ticks: Object.assign({ autoSkip: false, maxRotation: 0, color: '#000' }, opts.ticks || {})
  }, opts.extra || {});
}

function stroke(ctx, x0, y0, x1, y1) {
  ctx.beginPath(); ctx.moveTo(x0, y0); ctx.lineTo(x1, y1); ctx.stroke();
}

// ---------- inset chart ----------
const insetDecor = {
  id: 'insetDecor',
  beforeDatasetsDraw(chart) {
    const { ctx, chartArea: a, scales: { yr } } = chart;
    ctx.save();
    ctx.strokeStyle = '#c4c4c4'; ctx.lineWidth = 1; ctx.setLineDash([2, 3]);
    for (const v of insetResTicks) {
      if (v === 0) continue;
      const y = Math.round(yr.getPixelForValue(v)) + 0.5;
      stroke(ctx, a.left, y, a.right, y);
    }
    ctx.restore();
  },
  afterDraw(chart) {
    const { ctx, chartArea: a, scales: { yr } } = chart;
    ctx.save();
    ctx.strokeStyle = '#000'; ctx.lineWidth = 1.5;
    const y0 = yr.getPixelForValue(0);
    stroke(ctx, a.left, y0, a.right + 15, y0);
    ctx.restore();
  }
};

const insetChart = new Chart(document.getElementById('inset'), {
  type: 'line',
  data: {
    datasets: [
      { type: 'scatter', label: 'Fit residuals', data: pts(insetResDx, insetRes, 2344), xAxisID: 'x', yAxisID: 'yr',
        pointStyle: 'cross', pointRadius: 6, borderColor: '#222', borderWidth: 1.3, order: 0 },
      { label: 'Simulation', data: pts(insetSimDx, insetSimAbs, 2344), xAxisID: 'x', yAxisID: 'y',
        borderColor: '#ff1010', borderWidth: 1.8, pointRadius: 0, cubicInterpolationMode: 'monotone', order: 1 },
      { label: 'Experiment', data: pts(insetExpDx, insetExpAbs, 2344), xAxisID: 'x', yAxisID: 'y',
        borderColor: '#0a36c8', borderWidth: 1.8, pointRadius: 0, cubicInterpolationMode: 'monotone', order: 2 }
    ]
  },
  options: {
    responsive: false, animation: false, events: [],
    layout: { padding: 0 },
    plugins: { legend: { display: false }, tooltip: { enabled: false } },
    scales: {
      x: axis('bottom', 2343.9909, 2345.0091, insetWnTicks, 99, { tickLength: 14,
        ticks: { font: { size: 20 }, padding: 6, callback: v => v.toFixed(1) } }),
      xTop: axis('top', 2343.9909, 2345.0091, insetWnTicks, 30, { tickLength: 15,
        ticks: { display: false }, extra: { axis: 'x' } }),
      y: axis('left', -0.343, 0.650, insetAbsTicks, 84, { tickLength: 16, ticks: { display: false } }),
      yr: axis('right', -6.67, 51.4, insetResTicks, 97, { tickLength: 10,
        ticks: { font: { size: 20 }, padding: 22, callback: v => (v === 0 ? '0' : '') }, extra: { axis: 'y' } })
    }
  },
  plugins: [insetDecor]
});

// ---------- main chart ----------
function arrowTo(ctx, x0, y0, x1, y1) {
  const ang = Math.atan2(y1 - y0, x1 - x0), len = 16, half = 5.5;
  const bx = x1 - len * Math.cos(ang), by = y1 - len * Math.sin(ang);
  stroke(ctx, x0, y0, bx, by);
  ctx.beginPath();
  ctx.moveTo(x1, y1);
  ctx.lineTo(bx + half * Math.sin(ang), by - half * Math.cos(ang));
  ctx.lineTo(bx - half * Math.sin(ang), by + half * Math.cos(ang));
  ctx.closePath(); ctx.fill();
}

const mainDecor = {
  id: 'mainDecor',
  beforeDatasetsDraw(chart) {
    const { ctx, chartArea: a, scales: { yr } } = chart;
    ctx.save();
    ctx.strokeStyle = '#aeb3e0'; ctx.lineWidth = 1; ctx.setLineDash([2, 3]);
    for (const v of mainResTicks) {
      if (v === 0) continue;
      const y = Math.round(yr.getPixelForValue(v)) + 0.5;
      stroke(ctx, a.left, y, a.right, y);
    }
    ctx.restore();
  },
  afterDraw(chart) {
    const { ctx, chartArea: a, scales: { x, y, yr } } = chart;
    ctx.save();
    ctx.strokeStyle = '#000'; ctx.fillStyle = '#000'; ctx.lineWidth = 1.5;
    const y0 = yr.getPixelForValue(0);
    stroke(ctx, a.left, y0, a.right + 18, y0);
    for (const v of [-5, 5]) {
      const yy = yr.getPixelForValue(v);
      stroke(ctx, a.right, yy, a.right + 18, yy);
    }
    // zoomed window and its connectors to the inset frame
    const bx0 = x.getPixelForValue(zoomWindow[0]), bx1 = x.getPixelForValue(zoomWindow[1]);
    const ia = insetChart.chartArea;
    stroke(ctx, bx0, a.top, ia.left, ia.bottom);
    stroke(ctx, bx1, a.top, ia.right, ia.bottom);
    ctx.lineWidth = 3;
    ctx.strokeRect(bx0, a.top, bx1 - bx0, a.bottom + 4 - a.top);
    // arrows to the CO2 lines
    ctx.lineWidth = 1.5;
    const ox = x.getPixelForValue(arrowFrom[0]), oy = y.getPixelForValue(arrowFrom[1]);
    co2Wn.forEach((w, i) => arrowTo(ctx, ox, oy, x.getPixelForValue(w), y.getPixelForValue(co2Abs[i] + 0.012)));
    ctx.restore();
  }
};

const BLUE = '#0a36c8', RED = '#ff0000';
new Chart(document.getElementById('main'), {
  type: 'line',
  data: {
    datasets: [
      { type: 'scatter', label: 'Fit residuals', data: pts(resWn.concat(resCoreWn), res.concat(resCore)), xAxisID: 'x', yAxisID: 'yr',
        pointStyle: 'cross', pointRadius: 7, borderColor: '#000', borderWidth: 1.5, order: 0 },
      { type: 'bar', label: 'Simulation lines', data: spikes(simLineWn.concat(simWeakWn), simLineAbs.concat(simWeakAbs), 0),
        xAxisID: 'x', yAxisID: 'y', backgroundColor: RED, borderWidth: 0, barThickness: 1.5, grouped: false, order: 1 },
      { label: 'Simulation', data: pts(simEnvWn, simEnvAbs), xAxisID: 'x', yAxisID: 'y',
        borderColor: RED, backgroundColor: RED, borderWidth: 1, fill: 'origin', pointRadius: 0, tension: 0, order: 2 },
      { type: 'bar', label: 'Experiment lines',
        data: spikes(co2Wn.concat(expLineWn, expWeakWn), co2Abs.concat(expLineAbs, expWeakAbs), expBaseline),
        xAxisID: 'x', yAxisID: 'y', backgroundColor: BLUE, borderWidth: 0, barThickness: 1.5, grouped: false, order: 3 },
      // experimental band, filled down to the experimental baseline (next dataset)
      { label: 'Experiment', data: pts(expEnvWn, expEnvAbs), xAxisID: 'x', yAxisID: 'y',
        borderColor: BLUE, backgroundColor: BLUE, borderWidth: 1, fill: '+1', pointRadius: 0, tension: 0, order: 4 },
      { label: 'Experiment baseline', data: level(expEnvWn, expBaseline), xAxisID: 'x', yAxisID: 'y',
        borderColor: BLUE, borderWidth: 0, fill: false, pointRadius: 0, tension: 0, order: 5 }
    ]
  },
  options: {
    responsive: false, animation: false, events: [],
    layout: { padding: 0 },
    plugins: { legend: { display: false }, tooltip: { enabled: false } },
    scales: {
      x: axis('bottom', 2329.235, 2382.68, mainWnTicks, 86, { tickLength: 17,
        ticks: { font: { size: 25 }, padding: 6, callback: v => String(v) } }),
      xTop: axis('top', 2329.235, 2382.68, mainWnTicks, 493, { tickLength: 18,
        ticks: { display: false }, extra: { axis: 'x' } }),
      y: axis('left', -0.431, 1.428, mainAbsTicks, 129, { tickLength: 17,
        ticks: { font: { size: 25 }, padding: 10, callback: v => v.toFixed(1) } }),
      yr: axis('right', -6.06, 51.15, mainResTicks, 105, { tickLength: 10,
        ticks: { font: { size: 25 }, padding: 18, callback: v => (v % 5 === 0 ? String(v) : '') }, extra: { axis: 'y' } })
    }
  },
  plugins: [mainDecor]
});
</script>
</body>
</html>
